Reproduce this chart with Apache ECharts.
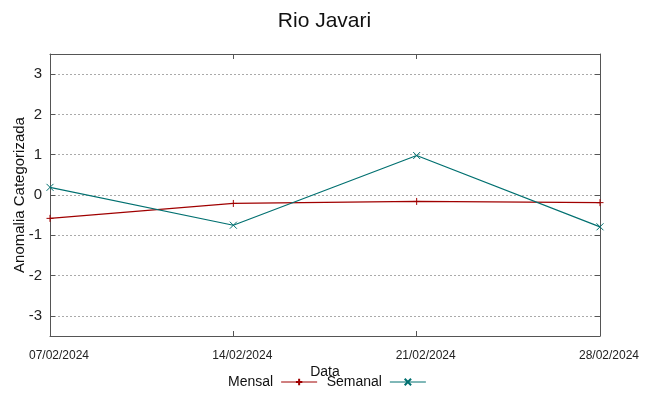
<!DOCTYPE html>
<html>
<head>
<meta charset="utf-8">
<script src="https://cdn.jsdelivr.net/npm/echarts@6/dist/echarts.min.js"></script>
<style>
  html, body { margin: 0; padding: 0; background: #fff; }
  #chart { width: 649px; height: 396px; }
</style>
</head>
<body>
<div id="chart"></div>
<script>
// datas e valores
var datas = ["07/02/2024", "14/02/2024", "21/02/2024", "28/02/2024"];
var mensal = [-0.58, -0.21, -0.16, -0.19];
var semanal = [0.19, -0.75, 0.98, -0.79];
var yTicks = [-3, -2, -1, 0, 1, 2, 3];

var vermelho = "#a00000";
var verde = "#007070";
var borda = "#555";
var fonte = "Liberation Sans";

var myChart = echarts.init(document.getElementById("chart"));
var option = {
  animation: false,
  title: {
    text: "Rio Javari",
    left: "center",
    top: 6,
    textStyle: { fontFamily: fonte, fontSize: 21, fontWeight: "normal", color: "#111" }
  },
  legend: {
    left: 228,
    top: 375,
    align: "right",
    itemWidth: 36,
    itemHeight: 8,
    itemGap: 9,
    padding: 0,
    lineStyle: { width: 1 },
    textStyle: { fontFamily: fonte, fontSize: 14, color: "#111", padding: [0, 3, 0, 0] },
    data: ["Mensal", "Semanal"]
  },
  grid: { left: 50, right: 49, top: 54, bottom: 60, outerBoundsMode: "none", containLabel: false },
  xAxis: [
    {
      type: "category",
      data: datas,
      boundaryGap: false,
      name: "Data",
      nameLocation: "middle",
      nameGap: 29,
      nameMoveOverlap: false,
      nameTextStyle: { fontFamily: fonte, fontSize: 14, color: "#111" },
      axisLine: { onZero: false, lineStyle: { color: borda, width: 1 } },
      axisTick: { inside: true, length: 5, lineStyle: { color: borda } },
      axisLabel: { margin: 14, padding: [0, 0, 0, 18], fontFamily: fonte, fontSize: 12, color: "#222" },
      splitLine: { show: false }
    },
    {
      type: "category",
      data: datas,
      boundaryGap: false,
      position: "top",
      axisLine: { onZero: false, lineStyle: { color: borda, width: 1 } },
      axisTick: { inside: true, length: 5, lineStyle: { color: borda } },
      axisLabel: { show: false },
      splitLine: { show: false }
    }
  ],
  yAxis: [
    {
      type: "value",
      min: -3.5,
      max: 3.5,
      name: "Anomalia Categorizada",
      nameLocation: "middle",
      nameGap: 23,
      nameMoveOverlap: false,
      nameTextStyle: { fontFamily: fonte, fontSize: 15, color: "#111" },
      axisLine: { show: true, onZero: false, lineStyle: { color: borda, width: 1 } },
      axisTick: { show: true, inside: true, length: 5, customValues: yTicks, lineStyle: { color: borda } },
      axisLabel: { customValues: yTicks, margin: 8, fontFamily: fonte, fontSize: 15, color: "#222" },
      splitLine: { show: true, lineStyle: { color: "#aaa", type: [2, 2], width: 1 } }
    },
    {
      type: "value",
      min: -3.5,
      max: 3.5,
      position: "right",
      axisLine: { show: true, onZero: false, lineStyle: { color: borda, width: 1 } },
      axisTick: { show: true, inside: true, length: 5, customValues: yTicks, lineStyle: { color: borda } },
      axisLabel: { show: false },
      splitLine: { show: false }
    }
  ],
  series: [
    {
      name: "Mensal",
      type: "line",
      data: mensal,
      symbol: "path://M5,0L5,10M0,5L10,5",
      symbolSize: 7,
      showSymbol: true,
      lineStyle: { color: vermelho, width: 1.2 },
      itemStyle: { color: vermelho, borderColor: vermelho, borderWidth: 1 }
    },
    {
      name: "Semanal",
      type: "line",
      data: semanal,
      symbol: "path://M0,0L10,10M10,0L0,10",
      symbolSize: 7,
      showSymbol: true,
      lineStyle: { color: verde, width: 1.2 },
      itemStyle: { color: verde, borderColor: verde, borderWidth: 1 }
    }
  ]
};
myChart.setOption(option);
</script>
</body>
</html>
